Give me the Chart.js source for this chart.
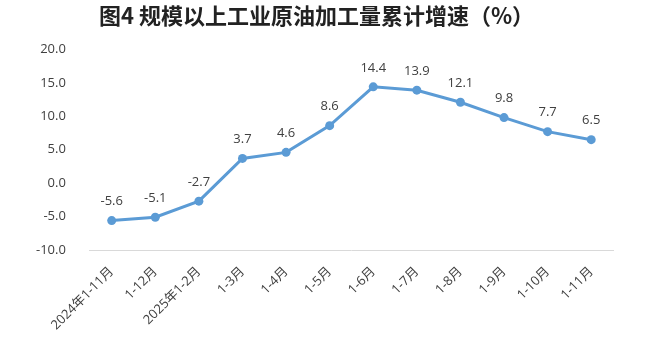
<!DOCTYPE html>
<html>
<head>
<meta charset="utf-8">
<script src="https://cdn.jsdelivr.net/npm/chart.js@4"></script>
<style>
  body { margin: 0; background: #fff; }
  #wrap { width: 651px; height: 351px; }
</style>
</head>
<body>
<div id="wrap"><canvas id="c"></canvas></div>
<script>
const months = ['2024年1-11月', '1-12月', '2025年1-2月', '1-3月', '1-4月', '1-5月',
  '1-6月', '1-7月', '1-8月', '1-9月', '1-10月', '1-11月'];
const growth = [-5.6, -5.1, -2.7, 3.7, 4.6, 8.6, 14.4, 13.9, 12.1, 9.8, 7.7, 6.5];
const yTicks = [-10, -5, 0, 5, 10, 15, 20];

const pointLabels = {
    id: 'pointLabels',
    afterDatasetsDraw(chart) {
        const ctx = chart.ctx;
        const meta = chart.getDatasetMeta(0);
        ctx.save();
        ctx.font = '13px "Open Sans", "Noto Sans CJK SC", sans-serif';
        ctx.fillStyle = '#404040';
        ctx.textAlign = 'center';
        ctx.textBaseline = 'middle';
        meta.data.forEach((pt, i) => {
            ctx.fillText(growth[i].toFixed(1), pt.x, pt.y - 19);
        });
        ctx.restore();
    }
};

new Chart(document.getElementById('c').getContext('2d'), {
    type: 'line',
    data: {
        labels: months,
        datasets: [{
            data: growth,
            borderColor: '#5b9bd5',
            backgroundColor: '#5b9bd5',
            borderWidth: 3,
            pointRadius: 4.5,
            pointBorderWidth: 0,
            tension: 0
        }]
    },
    options: {
        responsive: true,
        maintainAspectRatio: false,
        animation: false,
        layout: { padding: { left: 20, right: 38, top: 0, bottom: 0 } },
        plugins: {
            legend: { display: false },
            tooltip: { enabled: false },
            title: {
                display: true,
                text: '图4 规模以上工业原油加工量累计增速（%）',
                color: '#222',
                font: { family: '"Noto Sans CJK SC", sans-serif', size: 22, weight: 'bold' },
                padding: { top: 2, bottom: 21 }
            }
        },
        scales: {
            x: {
                offset: true,
                grid: { display: false },
                border: { color: '#d9d9d9' },
                afterFit: axis => { axis.height = 101; },
                ticks: {
                    color: '#404040',
                    maxRotation: 45,
                    minRotation: 45,
                    autoSkip: false,
                    padding: 6,
                    font: { family: '"Open Sans", "Noto Sans CJK SC", sans-serif', size: 13 }
                }
            },
            y: {
                min: -10,
                max: 20,
                afterBuildTicks: axis => { axis.ticks = yTicks.map(v => ({ value: v })); },
                grid: { display: false },
                border: { display: false },
                ticks: {
                    color: '#404040',
                    padding: 16,
                    callback: v => v.toFixed(1),
                    font: { family: '"Open Sans", sans-serif', size: 13 }
                }
            }
        }
    },
    plugins: [pointLabels]
});
</script>
</body>
</html>
